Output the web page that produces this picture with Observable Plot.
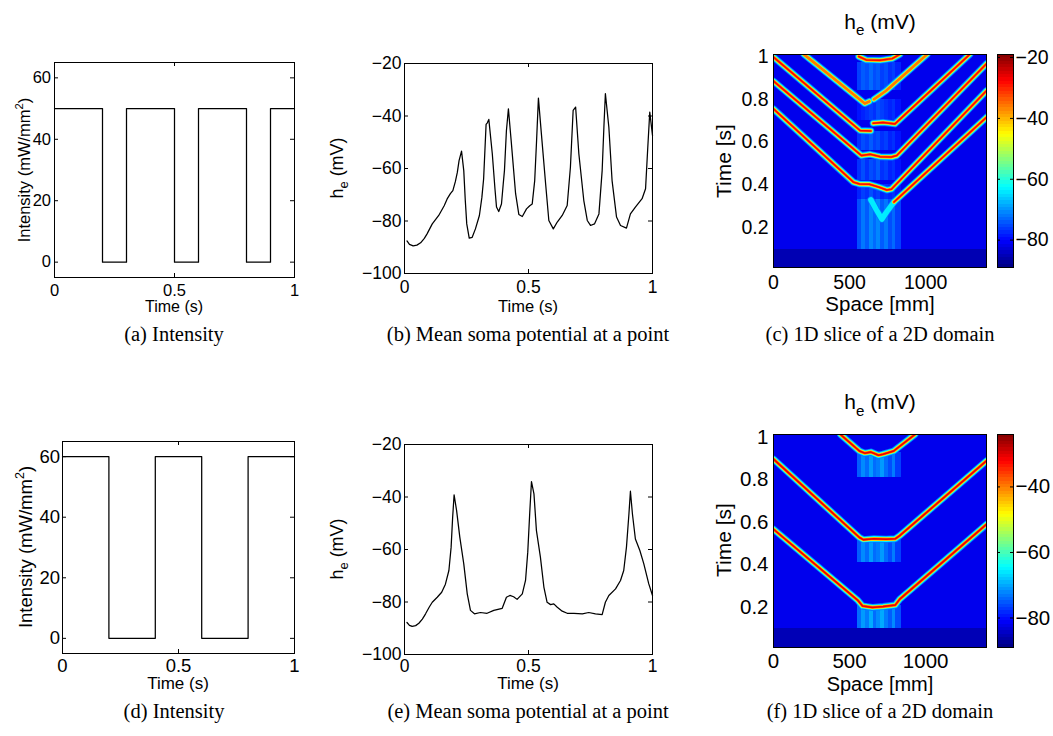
<!DOCTYPE html>
<html lang="en">
<head>
<meta charset="utf-8">
<title>Stimulus intensity and mean soma potential</title>
<script src="https://cdn.jsdelivr.net/npm/d3@7"></script>
<script src="https://cdn.jsdelivr.net/npm/@observablehq/plot@0.6"></script>
<style>
  html, body { margin: 0; background: #fff; }
  #figure { position: relative; width: 1053px; height: 736px; overflow: hidden; background: #fff; }
  #figure > svg { position: absolute; left: 0; top: 0; }
</style>
</head>
<body>
<div id="figure"></div>
<script>
// ---------------- data ----------------
const timeTicks = [0, 0.5, 1];
const intensityTicks = [0, 20, 40, 60];
const potentialTicks = [-100, -80, -60, -40, -20];
const spaceTicks = [0, 500, 1000];
const sliceTimeTicks = [0.2, 0.4, 0.6, 0.8, 1];
const colorTicksC = [-80, -60, -40, -20];
const colorTicksF = [-80, -60, -40];

// stimulus intensity (mW/mm^2), level held from each time on
const intensityTimesA = [0, 0.2, 0.3, 0.5, 0.6, 0.8, 0.9, 1.0];
const intensityLevelsA = [50, 0, 50, 0, 50, 0, 50, 50];
const intensityTimesD = [0, 0.2, 0.4, 0.6, 0.8, 1.0];
const intensityLevelsD = [60, 0, 60, 0, 60, 60];

// mean soma potential at a point: [time s, h_e mV]
const somaB = [
  [0.010, -87.6], [0.020, -88.9], [0.035, -89.5], [0.050, -89.2], [0.065, -88.3], [0.080, -86.6],
  [0.091, -84.9], [0.112, -81.1], [0.138, -77.9], [0.160, -74.2], [0.172, -71.6], [0.185, -69.6],
  [0.195, -68.4], [0.205, -65.0], [0.213, -61.5], [0.220, -57.0], [0.230, -53.4], [0.239, -60.8],
  [0.245, -72.0], [0.251, -81.1], [0.261, -86.5], [0.273, -86.2], [0.286, -83.0], [0.302, -77.9],
  [0.312, -71.0], [0.319, -64.0], [0.329, -43.2], [0.334, -42.6], [0.340, -41.3], [0.354, -54.4],
  [0.365, -68.0], [0.371, -74.7], [0.380, -76.4], [0.391, -73.5], [0.398, -66.0], [0.403, -60.8],
  [0.411, -45.5], [0.419, -37.3], [0.430, -49.3], [0.448, -69.6], [0.461, -77.5], [0.475, -78.3],
  [0.492, -75.4], [0.505, -74.2], [0.515, -73.5], [0.525, -64.6], [0.532, -50.6], [0.540, -33.2],
  [0.552, -46.8], [0.569, -65.8], [0.582, -79.8], [0.600, -83.0], [0.616, -80.4], [0.636, -77.9],
  [0.656, -74.1], [0.669, -59.5], [0.680, -37.9], [0.690, -36.6], [0.703, -54.4], [0.723, -72.2],
  [0.737, -79.8], [0.750, -81.7], [0.766, -81.1], [0.784, -77.3], [0.797, -60.8], [0.804, -44.3],
  [0.810, -31.5], [0.824, -44.3], [0.837, -64.6], [0.855, -78.5], [0.871, -81.7], [0.895, -82.7],
  [0.911, -77.3], [0.931, -74.7], [0.958, -71.5], [0.972, -67.7], [0.981, -51.9], [0.989, -38.5],
  [1.000, -47.4]
];
const somaE = [
  [0.010, -87.8], [0.020, -88.9], [0.031, -89.3], [0.045, -89.0], [0.058, -88.1], [0.072, -86.5],
  [0.085, -84.5], [0.100, -81.9], [0.112, -80.1], [0.132, -78.2], [0.150, -76.3], [0.165, -73.2],
  [0.179, -68.0], [0.188, -59.1], [0.194, -48.0], [0.200, -39.2], [0.210, -45.1], [0.223, -55.3],
  [0.239, -65.5], [0.253, -76.9], [0.266, -83.2], [0.282, -84.5], [0.306, -84.0], [0.333, -84.3],
  [0.360, -83.2], [0.394, -82.4], [0.411, -78.2], [0.425, -77.5], [0.440, -78.0], [0.454, -79.0],
  [0.475, -76.9], [0.488, -71.8], [0.497, -61.0], [0.505, -46.0], [0.512, -34.1], [0.522, -38.8],
  [0.532, -52.8], [0.548, -62.9], [0.562, -74.3], [0.575, -80.1], [0.589, -81.0], [0.602, -80.7],
  [0.616, -82.0], [0.636, -83.5], [0.656, -84.3], [0.683, -84.3], [0.717, -84.5], [0.743, -84.0],
  [0.770, -84.5], [0.797, -84.8], [0.810, -80.1], [0.824, -77.5], [0.851, -75.0], [0.871, -71.8],
  [0.884, -68.0], [0.895, -59.1], [0.905, -46.4], [0.911, -37.8], [0.919, -46.4], [0.931, -56.0],
  [0.949, -60.4], [0.965, -65.5], [0.985, -73.1], [1.000, -77.5]
];

// 1D slices (space mm x time s), colour in mV
const spaceExtent = [0, 1400];
const sliceTimeC = [0.014, 1.0093];
const sliceTimeF = [0.0104, 1.0127];
const colorDomainC = [-89, -19];
const colorDomainF = [-89, -24];
const restLevelC = -81.5, floorLevelC = -85.5;
const restLevelF = -82, floorLevelF = -85.5;
const floorEndTime = 0.1;

// stimulated columns and their afterglow
const hazeColumns = [555, 580, 605, 630, 655, 680, 705, 730, 755, 780, 805, 840];
const hazeBandsC = [
  {t1: 0.10, t2: 0.33, levels: [-75, -72, -74, -71, -73, -71, -74, -72, -75, -73, -76]},
  {t1: 0.33, t2: 0.40, levels: [-78, -76, -77, -75, -77, -76, -78, -77, -78, -77, -79]},
  {t1: 0.42, t2: 0.52, levels: [-77, -75, -77, -75, -76, -74, -77, -76, -78, -77, -79]},
  {t1: 0.56, t2: 0.65, levels: [-77, -75, -76, -74, -76, -75, -77, -76, -78, -77, -79]},
  {t1: 0.70, t2: 0.80, levels: [-79, -78, -77, -76, -77, -75, -76, -77, -78, -77, -79]},
  {t1: 0.84, t2: 0.97, levels: [-76, -74, -75, -73, -75, -74, -76, -75, -77, -76, -78]}
];
const hazeBandsF = [
  {t1: 0.10, t2: 0.21, levels: [-74, -71, -73, -70, -74, -72, -70, -73, -75, -72, -76]},
  {t1: 0.41, t2: 0.52, levels: [-75, -72, -74, -71, -74, -73, -71, -74, -76, -73, -77]},
  {t1: 0.81, t2: 0.93, levels: [-75, -72, -74, -71, -74, -73, -71, -74, -76, -73, -77]}
];

// wave crests: peak potential (mV) and path [space mm, time s]
const wavesC = [
  {peak: -64, pts: [[640, 0.33], [675, 0.285], [712, 0.24], [750, 0.28], [792, 0.32]]},
  {peak: -27, pts: [[792, 0.32], [1400, 0.716]]},
  {peak: -27, pts: [[0, 0.755], [525, 0.413], [565, 0.404], [630, 0.403], [690, 0.39], [745, 0.376], [775, 0.38], [1400, 0.84]]},
  {peak: -27, pts: [[0, 0.885], [578, 0.537], [635, 0.543], [700, 0.532], [775, 0.53], [810, 0.537], [1400, 0.966]]},
  {peak: -27, pts: [[0, 0.997], [569, 0.654], [640, 0.652]]},
  {peak: -25, pts: [[655, 0.688], [720, 0.692], [798, 0.685], [1290, 1.01]]},
  {peak: -30, pts: [[200, 1.01], [600, 0.78], [630, 0.79]]},
  {peak: -30, pts: [[660, 0.80], [740, 0.84], [1010, 1.01]]},
  {peak: -24, pts: [[560, 1.0], [610, 0.984], [700, 0.982], [780, 0.99], [830, 1.01]]}
];
const wavesF = [
  {peak: -30, pts: [[0, 0.567], [555, 0.232], [585, 0.206], [650, 0.199], [720, 0.203], [800, 0.21], [830, 0.238], [1400, 0.59]]},
  {peak: -30, pts: [[0, 0.897], [565, 0.528], [590, 0.518], [660, 0.522], [740, 0.52], [800, 0.522], [830, 0.537], [1400, 0.889]]},
  {peak: -30, pts: [[440, 1.013], [565, 0.935], [600, 0.925], [640, 0.93], [690, 0.915], [720, 0.92], [790, 0.935], [930, 1.013]]}
];
// potential across a crest, from its rim to its core (mV)
const crestProfileC = [-72, -64, -46, -36, -28];
const crestProfileF = [-73, -65, -48, -38, -31];

// ---------------- drawing ----------------
const W = 1053, H = 736;
const SANS = "'Liberation Sans', Arial, Helvetica, sans-serif";
const SERIF = "'Liberation Serif', 'Times New Roman', serif";
const crestWidths = [7, 5.4, 3.8, 2.7, 1.5];
const fmt = d => String(d).replace("-", "\u2212");

// MATLAB-style jet colormap
function jet(t) {
  const c = v => Math.max(0, Math.min(1, v));
  const r = c(1.5 - Math.abs(4 * t - 3));
  const g = c(1.5 - Math.abs(4 * t - 2));
  const b = c(1.5 - Math.abs(4 * t - 1));
  return d3.rgb(r * 255, g * 255, b * 255).formatHex();
}

// one full-size svg per axes box, frame = [left, right, top, bottom]
function framed(frame, spec) {
  return Plot.plot({
    width: W, height: H,
    marginLeft: frame[0], marginRight: W - frame[1],
    marginTop: frame[2], marginBottom: H - frame[3],
    style: {background: "transparent", fontFamily: SANS, overflow: "visible", color: "black"},
    ...spec
  });
}

// inward ticks on all four sides of the box
function boxTicks(xTicks, yTicks, xd, yd, frame, len = 4) {
  const ux = (xd[1] - xd[0]) * len / (frame[1] - frame[0]);
  const uy = (yd[1] - yd[0]) * len / (frame[3] - frame[2]);
  const st = {stroke: "black", strokeWidth: 1};
  const marks = [];
  if (xTicks.length) {
    marks.push(Plot.ruleX(xTicks, {x: d => d, y1: yd[0], y2: yd[0] + uy, ...st}));
    marks.push(Plot.ruleX(xTicks, {x: d => d, y1: yd[1], y2: yd[1] - uy, ...st}));
  }
  if (yTicks.length) {
    marks.push(Plot.ruleY(yTicks, {y: d => d, x1: xd[0], x2: xd[0] + ux, ...st}));
    marks.push(Plot.ruleY(yTicks, {y: d => d, x1: xd[1], x2: xd[1] - ux, ...st}));
  }
  return marks;
}

function linePanel({frame, xDomain, yDomain, xTicks, yTicks, data, curve, fontSize, xPad, yPad}) {
  return framed(frame, {
    x: {domain: xDomain}, y: {domain: yDomain},
    marks: [
      Plot.line(data, {x: d => d[0], y: d => d[1], stroke: "black", strokeWidth: 1.25, curve}),
      ...boxTicks(xTicks, yTicks, xDomain, yDomain, frame),
      Plot.frame({stroke: "black", strokeWidth: 1}),
      Plot.axisX({ticks: xTicks, tickSize: 0, tickPadding: xPad, fontSize, tickFormat: fmt, label: null}),
      Plot.axisY({ticks: yTicks, tickSize: 0, tickPadding: yPad, fontSize, tickFormat: fmt, label: null})
    ]
  });
}

function slicePanel({frame, timeDomain, colorDomain, rest, floor, bands, waves, profile, fontSize, xPad}) {
  const cells = [
    {x1: spaceExtent[0], x2: spaceExtent[1], t1: floorEndTime, t2: timeDomain[1], v: rest},
    {x1: spaceExtent[0], x2: spaceExtent[1], t1: timeDomain[0], t2: floorEndTime, v: floor},
    ...bands.flatMap(b => b.levels.map((v, i) => ({x1: hazeColumns[i], x2: hazeColumns[i + 1], t1: b.t1, t2: b.t2, v})))
  ];
  const crests = profile.flatMap((v, k) => waves.filter(w => v <= w.peak).map(w =>
    Plot.line(w.pts, {
      x: d => d[0], y: d => d[1], stroke: () => v, strokeWidth: crestWidths[k],
      strokeLinecap: "round", strokeLinejoin: "round", clip: true
    })));
  return framed(frame, {
    x: {domain: spaceExtent}, y: {domain: timeDomain},
    color: {type: "linear", domain: colorDomain, interpolate: jet},
    marks: [
      Plot.rect(cells, {x1: "x1", x2: "x2", y1: "t1", y2: "t2", fill: "v", shapeRendering: "crispEdges", clip: true}),
      ...crests,
      Plot.frame({stroke: "black", strokeWidth: 1}),
      Plot.axisX({ticks: spaceTicks, tickSize: 0, tickPadding: xPad, fontSize, tickFormat: fmt, label: null}),
      Plot.axisY({ticks: sliceTimeTicks, tickSize: 0, tickPadding: 5, fontSize, tickFormat: fmt, label: null})
    ]
  });
}

function colorBar({frame, colorDomain, ticks, fontSize}) {
  const n = 64, step = (colorDomain[1] - colorDomain[0]) / n;
  const bins = d3.range(n).map(i => ({lo: colorDomain[0] + i * step, hi: colorDomain[0] + (i + 1) * step}));
  return framed(frame, {
    x: {domain: [0, 1], axis: null}, y: {domain: colorDomain},
    color: {type: "linear", domain: colorDomain, interpolate: jet},
    marks: [
      Plot.rect(bins, {x1: 0, x2: 1, y1: "lo", y2: "hi", fill: d => (d.lo + d.hi) / 2, shapeRendering: "crispEdges"}),
      ...boxTicks([], ticks, [0, 1], colorDomain, frame, 3),
      Plot.frame({stroke: "black", strokeWidth: 1}),
      Plot.axisY({ticks, anchor: "right", tickSize: 0, tickPadding: 2, fontSize, tickFormat: fmt, label: null})
    ]
  });
}

const zip = (a, b) => a.map((t, i) => [t, b[i]]);
const fig = document.getElementById("figure");
const add = el => fig.appendChild(el);

// top row
add(linePanel({frame: [54, 294, 62, 277], xDomain: [0, 1], yDomain: [-5, 65], xTicks: timeTicks, yTicks: intensityTicks,
  data: zip(intensityTimesA, intensityLevelsA), curve: "step-after", fontSize: 16.5, xPad: 6.5, yPad: 3.5}));
add(linePanel({frame: [404, 652, 63, 273], xDomain: [0, 1], yDomain: [-100, -20], xTicks: timeTicks, yTicks: potentialTicks,
  data: somaB, curve: "linear", fontSize: 17.5, xPad: 7, yPad: 3}));
add(slicePanel({frame: [773, 986, 54, 267], timeDomain: sliceTimeC, colorDomain: colorDomainC, rest: restLevelC,
  floor: floorLevelC, bands: hazeBandsC, waves: wavesC, profile: crestProfileC, fontSize: 19.5, xPad: 8}));
add(colorBar({frame: [997, 1013, 54, 267], colorDomain: colorDomainC, ticks: colorTicksC, fontSize: 19.5}));

// bottom row
add(linePanel({frame: [62, 294, 441, 653], xDomain: [0, 1], yDomain: [-5, 65], xTicks: timeTicks, yTicks: intensityTicks,
  data: zip(intensityTimesD, intensityLevelsD), curve: "step-after", fontSize: 18.5, xPad: 5, yPad: 2.5}));
add(linePanel({frame: [404, 652, 444, 654], xDomain: [0, 1], yDomain: [-100, -20], xTicks: timeTicks, yTicks: potentialTicks,
  data: somaE, curve: "linear", fontSize: 17.5, xPad: 5, yPad: 3}));
add(slicePanel({frame: [773, 986, 434, 647], timeDomain: sliceTimeF, colorDomain: colorDomainF, rest: restLevelF,
  floor: floorLevelF, bands: hazeBandsF, waves: wavesF, profile: crestProfileF, fontSize: 20.5, xPad: 5.5}));
add(colorBar({frame: [997, 1013, 434, 647], colorDomain: colorDomainF, ticks: colorTicksF, fontSize: 20.5}));

// axis titles and sub-captions
const he = (size) => `h<tspan dy="${size * 0.3}" font-size="${size * 0.72}">e</tspan><tspan dy="${-size * 0.3}"> (mV)</tspan>`;
const intensityLabel = (size) => `Intensity (mW/mm<tspan dy="${-size * 0.38}" font-size="${size * 0.68}">2</tspan><tspan dy="${size * 0.38}">)</tspan>`;
const vtext = (x, y, size, body) => `<text transform="translate(${x},${y}) rotate(-90)" font-size="${size}" text-anchor="middle">${body}</text>`;
const htext = (x, y, size, body, family = SANS) => `<text x="${x}" y="${y}" font-size="${size}" font-family="${family}" text-anchor="middle">${body}</text>`;

const overlay = `<svg xmlns="http://www.w3.org/2000/svg" width="${W}" height="${H}" font-family="${SANS}" fill="black">
  ${vtext(29.5, 170, 16.5, intensityLabel(16.5))}
  ${htext(174, 312, 16, "Time (s)")}
  ${vtext(342.5, 168, 18, he(18))}
  ${htext(528, 312, 16.5, "Time (s)")}
  ${htext(880, 28.5, 21, he(21))}
  ${vtext(731, 161, 21, "Time [s]")}
  ${htext(880, 311, 20.5, "Space [mm]")}
  ${htext(174, 341, 20.5, "(a) Intensity", SERIF)}
  ${htext(528, 341, 20.5, "(b) Mean soma potential at a point", SERIF)}
  ${htext(880, 341, 20.5, "(c) 1D slice of a 2D domain", SERIF)}

  ${vtext(31.5, 547, 18.5, intensityLabel(18.5))}
  ${htext(178, 689, 17, "Time (s)")}
  ${vtext(342.5, 549, 18, he(18))}
  ${htext(528, 689, 17, "Time (s)")}
  ${htext(880, 409.3, 21, he(21))}
  ${vtext(731, 540, 21, "Time [s]")}
  ${htext(880, 691, 20, "Space [mm]")}
  ${htext(174, 718, 20.5, "(d) Intensity", SERIF)}
  ${htext(528, 718, 20.5, "(e) Mean soma potential at a point", SERIF)}
  ${htext(880, 718, 20.5, "(f) 1D slice of a 2D domain", SERIF)}
</svg>`;
fig.insertAdjacentHTML("beforeend", overlay);
</script>
</body>
</html>
